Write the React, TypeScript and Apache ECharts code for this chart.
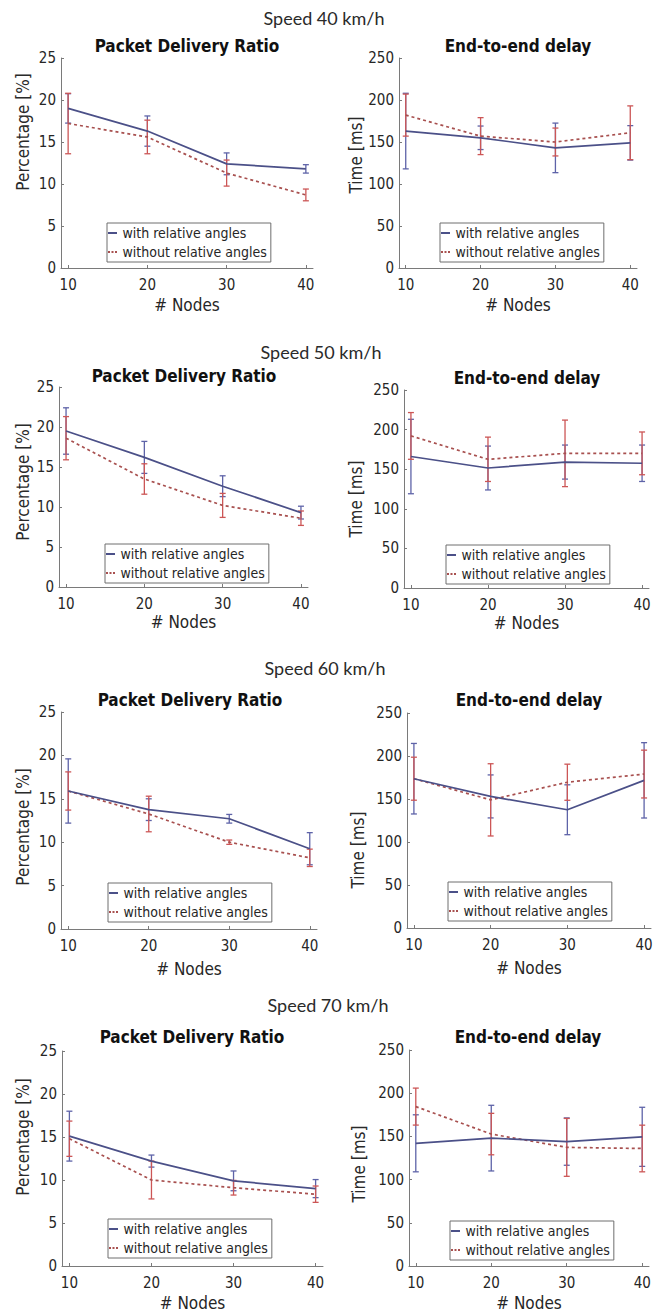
import React, { useEffect, useRef } from "react";
import * as echarts from "echarts";

// ---------- data ----------
const nodes = [10, 20, 30, 40];
const speedTitles = ["Speed 40 km/h", "Speed 50 km/h", "Speed 60 km/h", "Speed 70 km/h"];
const seriesNames = ["with relative angles", "without relative angles"];
const panelTitles = ["Packet Delivery Ratio", "End-to-end delay"];
const yAxisNames = ["Percentage [%]", "Time [ms]"];
const xAxisName = "# Nodes";

// Packet delivery ratio [%]
const pdrWith40 = [19.0, 16.3, 12.4, 11.8];
const pdrWith40Err = [1.75, 1.8, 1.3, 0.5];
const pdrWithout40 = [17.2, 15.6, 11.3, 8.7];
const pdrWithout40Err = [3.6, 2.0, 1.55, 0.7];

const pdrWith50 = [19.5, 16.2, 12.6, 9.3];
const pdrWith50Err = [2.9, 2.0, 1.3, 0.8];
const pdrWithout50 = [18.6, 13.5, 10.2, 8.6];
const pdrWithout50Err = [2.7, 1.9, 1.5, 0.9];

const pdrWith60 = [15.9, 13.75, 12.7, 9.25];
const pdrWith60Err = [3.7, 1.25, 0.5, 1.85];
const pdrWithout60 = [15.9, 13.25, 10.0, 8.2];
const pdrWithout60Err = [2.2, 2.05, 0.25, 1.0];

const pdrWith70 = [15.1, 12.2, 9.9, 9.0];
const pdrWith70Err = [2.9, 0.7, 1.15, 1.05];
const pdrWithout70 = [14.8, 10.0, 9.1, 8.35];
const pdrWithout70Err = [2.05, 2.2, 0.85, 0.95];

// End-to-end delay [ms]
const delayWith40 = [163, 155, 143, 149];
const delayWith40Err = [45, 14, 29.5, 20.5];
const delayWithout40 = [182, 157, 150, 161];
const delayWithout40Err = [25, 22, 16.6, 32];

const delayWith50 = [166, 151.5, 159, 157.5];
const delayWith50Err = [47, 27.7, 21.5, 23];
const delayWithout50 = [192, 162.5, 170, 170];
const delayWithout50Err = [29.5, 28, 42, 27];

const delayWith60 = [173.6, 153, 137.5, 171.7];
const delayWith60Err = [41, 25, 29, 43.8];
const delayWithout60 = [173.6, 149, 169.5, 179];
const delayWithout60Err = [25, 42, 21, 27.8];

const delayWith70 = [142, 148, 144, 149.5];
const delayWith70Err = [33, 38, 27.4, 34.2];
const delayWithout70 = [184.5, 152.7, 137.3, 136];
const delayWithout70Err = [21.4, 24, 33.5, 27];

const pdrMax = 25;
const pdrStep = 5;
const delayMax = 250;
const delayStep = 50;

// ---------- layout ----------
const W = 662;
const H = 1312;
const FF = "'DejaVu Sans Condensed', 'DejaVu Sans', sans-serif";
const gridBoxes = [
  [61, 58, 252, 210], [399, 58, 238, 210],
  [59, 387, 249, 200], [404, 390, 245, 198],
  [61, 712, 256, 217], [407, 713, 244, 215],
  [62, 1051, 261, 216], [409, 1050, 240, 217],
];
const speedTitlePos = [[324, 18], [321, 352], [325, 668], [328, 1005]];
const panelTitlePos = [[187, 46], [518, 46], [184, 376], [527, 378], [190, 700], [529, 700], [192, 1037], [528, 1037]];
const yNamePos = [[23, 132], [356, 155], [23, 482], [356, 499], [23, 827], [358, 850], [23, 1137], [359, 1164]];
const legendPos = [[107, 223], [440, 223], [105, 544], [446, 545], [108, 883], [448, 882], [108, 1219], [450, 1221]];
const xNameGaps = [28, 28, 26, 26, 31, 31, 28, 28];

const withLine = "#4b5088";
const withoutLine = "#a8504f";
const withErr = "#5e63a8";
const withoutErr = "#cc5656";
const solidIcon = "path://M0,0h9v2h-9z";
const dashedIcon = "path://M0,0h2v2h-2zM3.5,0h2v2h-2zM7,0h2v2h-2z";

const panels = [
  [pdrWith40, pdrWith40Err, pdrWithout40, pdrWithout40Err],
  [delayWith40, delayWith40Err, delayWithout40, delayWithout40Err],
  [pdrWith50, pdrWith50Err, pdrWithout50, pdrWithout50Err],
  [delayWith50, delayWith50Err, delayWithout50, delayWithout50Err],
  [pdrWith60, pdrWith60Err, pdrWithout60, pdrWithout60Err],
  [delayWith60, delayWith60Err, delayWithout60, delayWithout60Err],
  [pdrWith70, pdrWith70Err, pdrWithout70, pdrWithout70Err],
  [delayWith70, delayWith70Err, delayWithout70, delayWithout70Err],
];

function errRenderer(color: string) {
  return (params: any, api: any) => {
    const x = api.value(0);
    const lo = api.value(1);
    const hi = api.value(2);
    const p1 = api.coord([x, lo]);
    const p2 = api.coord([x, hi]);
    const w = 3;
    const style = { stroke: color, lineWidth: 1.3, fill: null };
    return {
      type: "group",
      children: [
        { type: "line", shape: { x1: p1[0], y1: p1[1], x2: p2[0], y2: p2[1] }, style },
        { type: "line", shape: { x1: p1[0] - w, y1: p1[1], x2: p1[0] + w, y2: p1[1] }, style },
        { type: "line", shape: { x1: p2[0] - w, y1: p2[1], x2: p2[0] + w, y2: p2[1] }, style },
      ],
    };
  };
}

function buildOption() {
  const grid: any[] = [];
  const xAxis: any[] = [];
  const yAxis: any[] = [];
  const legend: any[] = [];
  const lines: any[] = [];
  const errs: any[] = [];
  const graphic: any[] = [];

  speedTitles.forEach((t, r) => {
    graphic.push({
      type: "text",
      x: speedTitlePos[r][0],
      y: speedTitlePos[r][1],
      style: { text: t, fontSize: 18, fontFamily: "Lato, 'Open Sans', sans-serif", fill: "#2a2a2a", align: "center", verticalAlign: "middle" },
    });
  });

  panels.forEach((pd, i) => {
    const isDelay = i % 2 === 1;
    const [gx, gy, gw, gh] = gridBoxes[i];
    grid.push({ left: gx, top: gy, width: gw, height: gh, containLabel: false });
    xAxis.push({
      type: "value",
      gridIndex: i,
      min: 9.1,
      max: 40.9,
      axisLine: { show: true, lineStyle: { color: "#7a7a7a", width: 1 } },
      axisTick: { show: true, inside: true, length: 3, customValues: nodes, lineStyle: { color: "#7a7a7a" } },
      axisLabel: { customValues: nodes, fontSize: 15, fontFamily: FF, color: "#262626", margin: 9 },
      splitLine: { show: false },
      name: xAxisName,
      nameLocation: "middle",
      nameGap: xNameGaps[i],
      nameTextStyle: { fontSize: 17, fontFamily: FF, color: "#262626" },
    });
    yAxis.push({
      type: "value",
      gridIndex: i,
      min: 0,
      max: isDelay ? delayMax : pdrMax,
      interval: isDelay ? delayStep : pdrStep,
      axisLine: { show: true, lineStyle: { color: "#7a7a7a", width: 1 } },
      axisTick: { show: true, inside: true, length: 3, lineStyle: { color: "#7a7a7a" } },
      axisLabel: { fontSize: 15, fontFamily: FF, color: "#262626", margin: 5 },
      splitLine: { show: false },
    });
    legend.push({
      data: [
        { name: seriesNames[0], icon: solidIcon },
        { name: seriesNames[1], icon: dashedIcon },
      ],
      left: legendPos[i][0],
      top: legendPos[i][1],
      orient: "vertical",
      padding: [2, 4, 2, 1],
      itemGap: 3,
      itemWidth: 10,
      itemHeight: 2,
      backgroundColor: "#ffffff",
      borderColor: "#6e6e6e",
      borderWidth: 1,
      borderRadius: 0,
      selectedMode: false,
      textStyle: { fontSize: 14, fontFamily: FF, color: "#262626", lineHeight: 16 },
    });
    graphic.push({
      type: "text",
      x: panelTitlePos[i][0],
      y: panelTitlePos[i][1],
      style: { text: panelTitles[i % 2], fontSize: 17, fontWeight: "bold", fontFamily: FF, fill: "#111", align: "center", verticalAlign: "middle" },
    });
    graphic.push({
      type: "text",
      x: yNamePos[i][0],
      y: yNamePos[i][1],
      rotation: Math.PI / 2,
      style: { text: yAxisNames[i % 2], fontSize: 17, fontFamily: FF, fill: "#2a2a2a", align: "center", verticalAlign: "middle" },
    });

    const [wv, we, wov, woe] = pd as number[][];
    lines.push({
      name: seriesNames[0],
      type: "line",
      xAxisIndex: i,
      yAxisIndex: i,
      symbol: "none",
      z: 4,
      data: nodes.map((x, k) => [x, wv[k]]),
      lineStyle: { color: withLine, width: 1.7, type: "solid" },
      itemStyle: { color: withLine },
    });
    lines.push({
      name: seriesNames[1],
      type: "line",
      xAxisIndex: i,
      yAxisIndex: i,
      symbol: "none",
      z: 3,
      data: nodes.map((x, k) => [x, wov[k]]),
      lineStyle: { color: withoutLine, width: 1.7, type: [3, 3] },
      itemStyle: { color: withoutLine },
    });
    errs.push({
      name: "err-with-" + i,
      type: "custom",
      xAxisIndex: i,
      yAxisIndex: i,
      z: 2,
      encode: { x: 0, y: [1, 2] },
      data: nodes.map((x, k) => [x, wv[k] - we[k], wv[k] + we[k]]),
      renderItem: errRenderer(withErr),
    });
    errs.push({
      name: "err-without-" + i,
      type: "custom",
      xAxisIndex: i,
      yAxisIndex: i,
      z: 2,
      encode: { x: 0, y: [1, 2] },
      data: nodes.map((x, k) => [x, wov[k] - woe[k], wov[k] + woe[k]]),
      renderItem: errRenderer(withoutErr),
    });
  });

  return {
    animation: false,
    backgroundColor: "#ffffff",
    grid,
    xAxis,
    yAxis,
    legend,
    graphic,
    series: [...lines, ...errs],
  };
}

export default function App() {
  const ref = useRef<HTMLDivElement>(null);
  useEffect(() => {
    if (!ref.current) return;
    const chart = echarts.init(ref.current, undefined, { renderer: "svg" });
    chart.setOption(buildOption() as any);
    return () => chart.dispose();
  }, []);
  return <div ref={ref} style={{ position: "absolute", left: 0, top: 0, width: W, height: H }} />;
}
